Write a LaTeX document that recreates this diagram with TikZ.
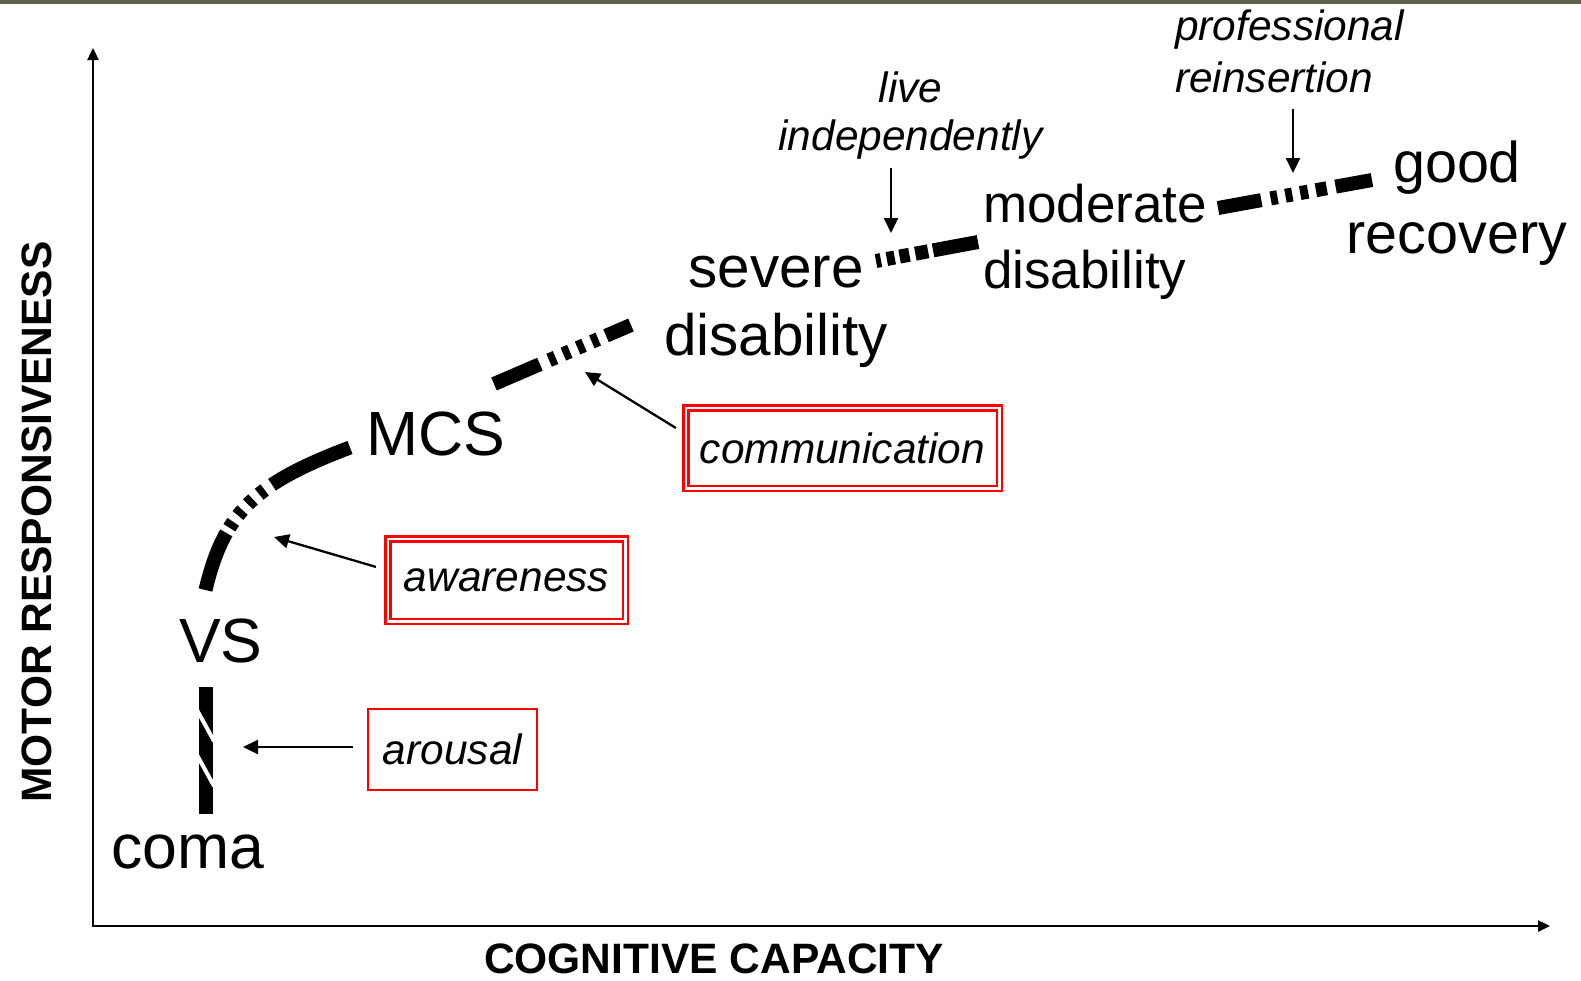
\documentclass[tikz,border=0pt]{standalone}
\usepackage{fontspec}
\setmainfont{Liberation Sans}
\usepackage{xcolor}
\usetikzlibrary{arrows.meta}
\definecolor{bandgray}{RGB}{94,97,72}

\begin{document}
\begin{tikzpicture}[x=1pt, y=-1pt,
    state/.style={inner sep=0pt, anchor=base west, font=\fontsize{62.5}{72}\selectfont},
    outcome/.style={inner sep=0pt, anchor=base},
    note/.style={inner sep=0pt, anchor=base, font=\fontsize{42.4}{48}\selectfont\itshape},
    axislabel/.style={inner sep=0pt, anchor=base, font=\fontsize{42.5}{50}\selectfont\bfseries},
    track/.style={line width=14pt},
    pointer/.style={line width=2.3pt, -{Triangle[length=15pt,width=14pt]}},
    singlebox/.style={draw=red, line width=2pt, inner sep=0pt, font=\fontsize{42.4}{48}\selectfont\itshape},
    doublebox/.style={singlebox, line width=2.5pt, double=white, double distance=2.5pt},
]
    \useasboundingbox (0,0) rectangle (1581,980);
    \fill[bandgray] (0,0) rectangle (1581,4);

    % Axes
    \coordinate (origin) at (93,926);
    \coordinate (ytop) at (93,48);
    \coordinate (xend) at (1550,926);
    \draw[line width=2.4pt, {Triangle[length=12pt,width=11pt]}-{Triangle[length=12pt,width=11pt]}] (ytop) -- (origin) -- (xend);
    \node[axislabel] (xlabel) at (714,973) {COGNITIVE CAPACITY};
    \node[axislabel, rotate=90] (ylabel) at (51,522) {MOTOR RESPONSIVENESS};

    % States (two-line labels sit on the baseline of their last line)
    \node[state] (coma) at (111.5,868) {coma};
    \node[state] (vs) at (179,662) {VS};
    \node[state] (mcs) at (366,455) {MCS};
    \node[outcome, align=center, font=\fontsize{58.4}{68}\selectfont] (severe) at (776,355) {severe\\disability};
    \node[outcome, anchor=base west, align=left, font=\fontsize{53}{66}\selectfont] (moderate) at (983,288) {moderate\\disability};
    \node[outcome, align=center, font=\fontsize{57.5}{71}\selectfont] (good) at (1457,253) {good\\recovery};

    % Milestones
    \node[note, align=center] (live) at (910.5,150) {live\\independently};
    \node[note, anchor=base west, align=left, font=\fontsize{42.4}{52}\selectfont\itshape] (work) at (1175,92) {professional\\reinsertion};
    \node[singlebox, minimum width=169pt, minimum height=81pt] (arousal) at (452.5,749.5) {arousal};
    \node[doublebox, minimum width=237.5pt, minimum height=82.5pt] (awareness) at (506.5,580) {awareness};
    \node[doublebox, minimum width=313.5pt, minimum height=80.5pt] (communication) at (842.5,448) {communication};

    % Recovery track
    \coordinate (comabot) at (205.5,814);
    \coordinate (comatop) at (205.5,687);
    \coordinate (vsend) at (205.5,590);
    \coordinate (mcsstart) at (350,447.5);
    \coordinate (mcsend) at (494,384);
    \coordinate (sevstart) at (631,325);
    \coordinate (sevend) at (876,261);
    \coordinate (modstart) at (978,242);
    \coordinate (modend) at (1218,208);
    \coordinate (goodstart) at (1372,180);

    \draw[track] (comabot) -- (comatop);
    \foreach \s in {710,755}
        \draw[white, line width=4pt] (197,\s) -- ++(17,31);
    \draw[track, dash pattern=on 61pt off 6pt on 7pt off 8pt on 7pt off 8pt on 7pt off 8pt on 7pt off 9pt on 120pt]
        (vsend) .. controls +(18.5,-78) and +(-94,35.5) .. (mcsstart);
    \draw[track, dash pattern=on 50pt off 10pt on 7pt off 8.5pt on 7pt off 8.5pt on 7pt off 8.5pt on 7pt off 8.5pt on 60pt]
        (mcsend) -- (sevstart);
    \draw[track, dash pattern=on 5pt off 6pt on 8pt off 5pt on 10pt off 6pt on 13pt off 5pt on 60pt]
        (sevend) -- (modstart);
    \draw[track, dash pattern=on 44pt off 9.5pt on 7pt off 8pt on 7pt off 8pt on 8pt off 8pt on 11pt off 9pt on 60pt]
        (modend) -- (goodstart);

    % Pointers
    \coordinate (arousaltip) at (243,747);
    \coordinate (awaretip) at (274,537);
    \coordinate (committip) at (585,372);
    \coordinate (livetip) at (891,233);
    \coordinate (worktip) at (1293,173);
    \draw[pointer, shorten <=14pt] (arousal.west |- arousaltip) -- (arousaltip);
    \draw[pointer, shorten <=11pt] ([yshift=10pt]awareness.west) -- (awaretip);
    \draw[pointer, shorten <=10pt] ([yshift=14.7pt]communication.west) -- (committip);
    \draw[pointer, shorten <=9pt] (live.south -| livetip) -- (livetip);
    \draw[pointer, shorten <=16pt] (work.south -| worktip) -- (worktip);
\end{tikzpicture}
\end{document}
